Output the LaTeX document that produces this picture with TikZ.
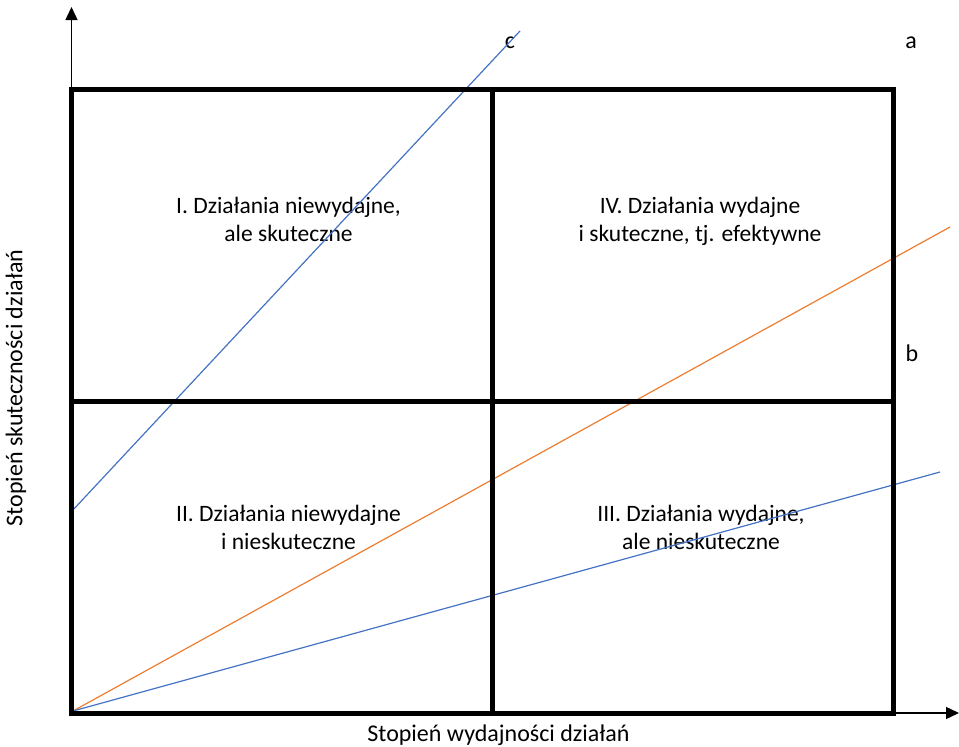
\documentclass[tikz,border=0pt]{standalone}
\usepackage{fontspec}
\setmainfont{Carlito}
\usetikzlibrary{arrows.meta}
\definecolor{lineblue}{HTML}{4472C4}
\definecolor{lineorange}{HTML}{ED7D31}
\begin{document}
\begin{tikzpicture}[x=1pt,y=-1pt,
  axis/.style={line width=1.4pt, -{Triangle[length=13pt,width=12pt]}},
  frame/.style={line width=5pt, line join=miter},
  quad/.style={font=\fontsize{23.5}{28.5}\selectfont, align=center, anchor=base, inner sep=0pt},
  tag/.style={font=\fontsize{24}{28}\selectfont, anchor=base, inner sep=0pt},
  ray/.style={line width=1.2pt}]
\useasboundingbox (0,0) rectangle (959,747);

% corner points of the matrix
\coordinate (O) at (71.5,713);
\coordinate (TL) at (71.5,89.5);
\coordinate (BR) at (893.5,713);
\coordinate (TM) at (492.5,89.5);
\coordinate (BM) at (492.5,713);
\coordinate (ML) at (71.5,401);
\coordinate (MR) at (893.5,401);
\coordinate (TR) at (893.5,89.5);

% axes
\coordinate (ytip) at (71.5,7);
\coordinate (xtip) at (959,713);
\draw[axis] (O) -- (ytip);
\draw[axis] (O) -- (xtip);

% quadrant descriptions (placed by the baseline of their last line)
\node[quad] (q1) at (288.5,241.5) {I. Działania niewydajne,\\ale skuteczne};
\node[quad] (q4) at (700,241.5) {IV. Działania wydajne\\i skuteczne, tj. efektywne};
\node[quad] (q2) at (288.5,549.5) {II. Działania niewydajne\\i nieskuteczne};
\node[quad] (q3) at (701,549.5) {III. Działania wydajne,\\ale nieskuteczne};

% axis titles
\node[tag] (xlab) at (498.5,741) {Stopień wydajności działań};
\node[tag, rotate=90, anchor=center] (ylab) at (16,388) {Stopień skuteczności działań};

% line tags
\node[tag] (ta) at (911,48) {a};
\node[tag] (tb) at (912,361) {b};
\node[tag] (tc) at (510,48) {c};

% rays
\coordinate (s0) at (73,711);
\coordinate (c0) at (72,511);
\coordinate (c1) at (520,31);
\coordinate (a1) at (950,227);
\coordinate (b1) at (940,472);
\draw[ray, lineblue] (c0) -- (c1);
\draw[ray, lineorange] (s0) -- (a1);
\draw[ray, lineblue] (s0) -- (b1);

% matrix frame
\draw[frame] (TL) rectangle (BR);
\draw[frame] (TM) -- (BM);
\draw[frame] (ML) -- (MR);
\end{tikzpicture}
\end{document}
